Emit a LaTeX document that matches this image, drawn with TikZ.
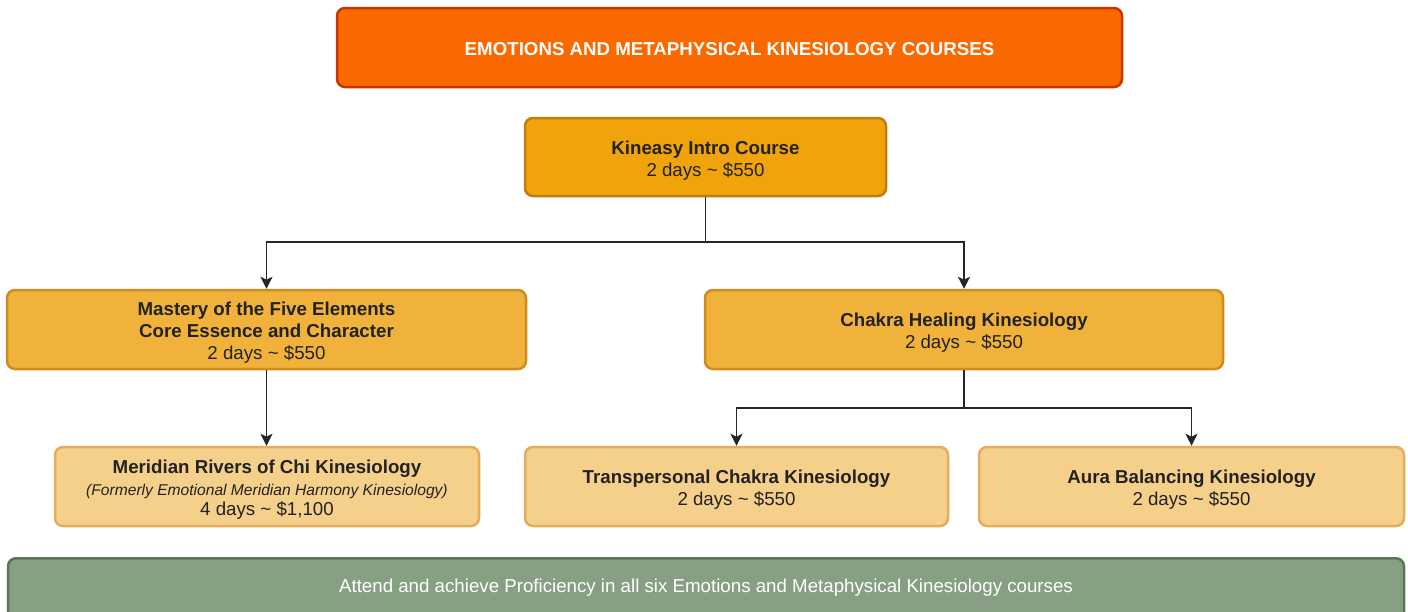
\documentclass[tikz,border=0pt]{standalone}
\usepackage{fontspec}
\setmainfont{Liberation Sans}
\usetikzlibrary{arrows.meta}
\definecolor{titlefill}{HTML}{FA6800}
\definecolor{titledraw}{HTML}{C73500}
\definecolor{introfill}{HTML}{F0A30A}
\definecolor{introdraw}{HTML}{C27C0E}
\definecolor{midfill}{HTML}{F0B23B}
\definecolor{middraw}{HTML}{D08A1E}
\definecolor{lowfill}{HTML}{F5D08B}
\definecolor{lowdraw}{HTML}{E3AD5A}
\definecolor{greenfill}{HTML}{87A083}
\definecolor{greendraw}{HTML}{5B7557}
\definecolor{txt}{HTML}{222222}
\newcommand{\topgap}{\rule{0pt}{20pt}}
\tikzset{
  box/.style={rounded corners=8pt, line width=2.5pt, inner sep=0pt, align=center, text=txt, font=\fontsize{18.7}{22}\selectfont},
  conn/.style={line width=1.2pt, black!85},
  arr/.style={conn, -{Stealth[width=12pt,length=12pt,inset=3pt]}}
}
\begin{document}
\begin{tikzpicture}[x=1pt,y=-1pt]
\useasboundingbox (0,0) rectangle (1408,611);
% title
\node[box, draw=titledraw, fill=titlefill, text=white, minimum width=785pt, minimum height=79pt, font=\bfseries\fontsize{18.7}{22}\selectfont] (title) at (729.5,47.5) {\rule{0pt}{16pt}EMOTIONS AND METAPHYSICAL KINESIOLOGY COURSES};
% intro
\node[box, draw=introdraw, fill=introfill, minimum width=361pt, minimum height=78pt] (intro) at (705.5,157) {\topgap\textbf{Kineasy Intro Course}\\2 days \char`~{} \$550};
% mid
\node[box, draw=middraw, fill=midfill, minimum width=519pt, minimum height=79pt] (mastery) at (266.5,329.5) {\topgap\textbf{Mastery of the Five Elements}\\\textbf{Core Essence and Character}\\2 days \char`~{} \$550};
\node[box, draw=middraw, fill=midfill, minimum width=518pt, minimum height=79pt] (chakra) at (964,329.5) {\topgap\textbf{Chakra Healing Kinesiology}\\2 days \char`~{} \$550};
% low
\node[box, draw=lowdraw, fill=lowfill, minimum width=424pt, minimum height=79pt] (meridian) at (267,486.5) {\topgap\textbf{Meridian Rivers of Chi Kinesiology}\\{\itshape\fontsize{15.6}{18}\selectfont (Formerly Emotional Meridian Harmony Kinesiology)}\\[-2pt]4 days \char`~{} \$1,100};
\node[box, draw=lowdraw, fill=lowfill, minimum width=423pt, minimum height=79pt] (trans) at (736.5,486.5) {\topgap\textbf{Transpersonal Chakra Kinesiology}\\2 days \char`~{} \$550};
\node[box, draw=lowdraw, fill=lowfill, minimum width=425pt, minimum height=79pt] (aura) at (1191.5,486.5) {\topgap\textbf{Aura Balancing Kinesiology}\\2 days \char`~{} \$550};
% green
\node[box, draw=greendraw, fill=greenfill, minimum width=1396pt, minimum height=70pt, anchor=north] (goal) at (706,557) {};
\node[text=white, font=\fontsize{18.7}{22}\selectfont, inner sep=0pt] (goaltext) at (706,588) {Attend and achieve Proficiency in all six Emotions and Metaphysical Kinesiology courses};
% connectors
\coordinate (j1) at (705.5,242);
\coordinate (j2) at (964,408);
\draw[conn] (intro.south) -- (j1);
\draw[arr] (j1) -| (mastery.north);
\draw[arr] (j1) -| (chakra.north);
\draw[arr] (mastery.south) -- (meridian.north -| mastery.south);
\draw[conn] (chakra.south) -- (j2);
\draw[arr] (j2) -| (trans.north);
\draw[arr] (j2) -| (aura.north);
\end{tikzpicture}
\end{document}
